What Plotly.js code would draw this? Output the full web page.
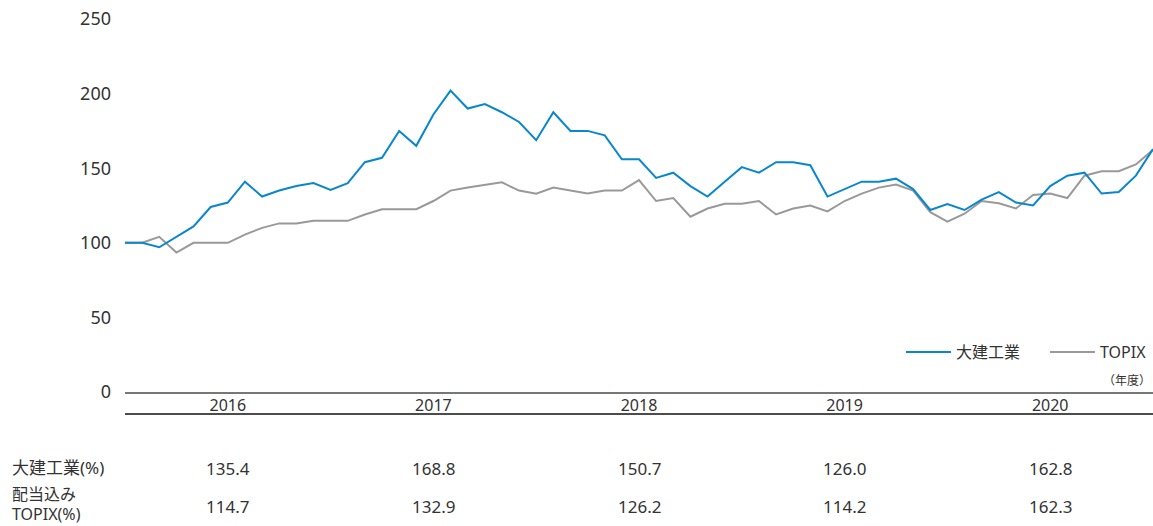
<!DOCTYPE html>
<html>
<head>
<meta charset="utf-8">
<script src="https://cdn.plot.ly/plotly-3.0.1.min.js"></script>
<style>
html,body{margin:0;padding:0;background:#fff;}
#chart{width:1153px;height:526px;}
</style>
</head>
<body>
<div id="chart"></div>
<script>
// Monthly index (base = 100), 61 points
const daiken = [100,100,97,104,111,124,127,141,131,135,138,140,135.4,140,154,157,175,165,186,202,190,193,187.5,181,168.8,187.5,175,175,172,156,156,143.5,147,138,131,141,150.7,147,154,154,152,131,136,141,141,143,136,122,126,122,129,134,127,125,138,145,147,133,134,145,162.8];
const topix = [100,100,104,93.5,100,100,100,105.5,110,113,113,114.7,114.7,114.7,119,122.5,122.5,122.5,128,135,137,138.5,140.5,135,132.9,137,135,133,135,135,142,128,130,117.5,123,126.2,126.2,128,119,123,125,121,128,133,137,139,135,120.5,114.2,119.5,128,126.5,123,132,133,130,145,148,148,152.5,162.3];
const fiscalYears = ['2016','2017','2018','2019','2020'];
const yearPos = [6,18,30,42,54];
const daikenYearEnd = ['135.4','168.8','150.7','126.0','162.8'];
const topixYearEnd = ['114.7','132.9','126.2','114.2','162.3'];
const seriesNames = ['大建工業','TOPIX'];
const rowLabels = ['大建工業(%)','配当込み','TOPIX(%)'];

const idx = daiken.map((_, i) => i);
const FONT = 'Noto Sans, Noto Sans CJK JP, sans-serif';
const TXT = '#333333';

const traces = [
  {x: idx, y: topix, name: seriesNames[1], type: 'scatter', mode: 'lines',
   line: {color: '#999999', width: 2}},
  {x: idx, y: daiken, name: seriesNames[0], type: 'scatter', mode: 'lines',
   line: {color: '#0a87cc', width: 2}}
];

const plotH = 373; // px height of plot area
function py(px) { return (392 - px) / plotH; } // convert page y to paper y
const LEFT = -125 / 1028;

const annotations = [];
yearPos.forEach((p, i) => {
  annotations.push({x: p, y: py(469), xref: 'x', yref: 'paper', text: daikenYearEnd[i],
    showarrow: false, font: {family: FONT, size: 17, color: TXT}, xanchor: 'center', yanchor: 'middle'});
  annotations.push({x: p, y: py(506), xref: 'x', yref: 'paper', text: topixYearEnd[i],
    showarrow: false, font: {family: FONT, size: 17, color: TXT}, xanchor: 'center', yanchor: 'middle'});
});
[[rowLabels[0], 468, 17], [rowLabels[1], 494, 16], [rowLabels[2], 514, 16]].forEach(([t, yy, fs]) => {
  annotations.push({x: LEFT, y: py(yy), xref: 'paper', yref: 'paper', text: t,
    showarrow: false, font: {family: FONT, size: fs, color: TXT}, xanchor: 'left', yanchor: 'middle',
    xshift: 11, borderpad: 0});
});
annotations.push({x: 1, y: py(380), xref: 'paper', yref: 'paper', text: '（年度）',
  showarrow: false, font: {family: FONT, size: 12, color: TXT}, xanchor: 'right', yanchor: 'middle'});

const layout = {
  width: 1153, height: 526,
  margin: {l: 125, r: 0, t: 19, b: 134, autoexpand: false},
  paper_bgcolor: '#ffffff', plot_bgcolor: '#ffffff',
  font: {family: FONT, color: TXT},
  showlegend: true,
  legend: {orientation: 'h', x: (901 - 125) / 1028, xanchor: 'left', y: py(352), yanchor: 'middle',
    traceorder: 'reversed', font: {family: FONT, size: 16, color: TXT},
    bgcolor: 'rgba(0,0,0,0)', itemwidth: 45, entrywidth: 84, entrywidthmode: 'pixels'},
  xaxis: {range: [0, 60], showgrid: false, zeroline: false, showline: true,
    linecolor: '#777777', linewidth: 2, tickmode: 'array', tickvals: yearPos, ticktext: fiscalYears,
    ticks: '', ticklabelstandoff: -2, tickfont: {family: FONT, size: 16, color: TXT}, fixedrange: true},
  yaxis: {range: [0, 250], tickvals: [0,50,100,150,200,250], showgrid: false, zeroline: false,
    showline: false, ticks: '', ticklabelstandoff: 13,
    tickfont: {family: FONT, size: 18, color: TXT}, fixedrange: true},
  shapes: [
    {type: 'line', xref: 'paper', yref: 'paper', x0: 0, x1: 1, y0: py(414), y1: py(414),
     line: {color: '#111111', width: 1.5}}
  ],
  annotations: annotations
};

Plotly.newPlot('chart', traces, layout, {displayModeBar: false, staticPlot: true});
</script>
</body>
</html>
